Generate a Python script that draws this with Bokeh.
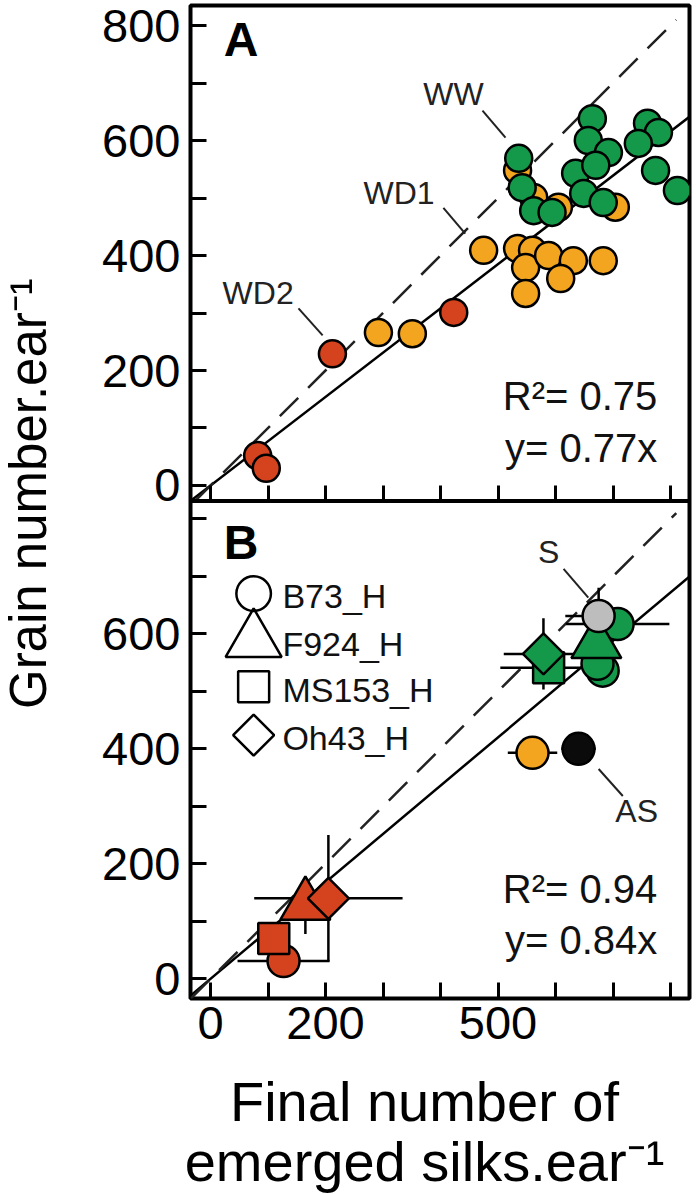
import numpy as np
from bokeh.plotting import figure
from bokeh.models import Range1d, FixedTicker, Label, LinearAxis, Span
from bokeh.layouts import row, column
from bokeh.embed import file_html
from bokeh.resources import INLINE

FONT = "Liberation Sans"

# ---------------- Panel A data ----------------
ww_x = [536, 542, 562, 594, 635, 649, 664, 657, 692, 670, 683, 760, 779, 744, 774, 812]
ww_y = [569, 518, 478, 475, 543, 508, 638, 600, 579, 557, 492, 630, 614, 595, 548, 513]
wd1_x = [292, 351, 475, 534, 560, 548, 588, 631, 609, 683, 548, 605, 704, 534, 562]
wd1_y = [266, 264, 409, 412, 409, 379, 400, 391, 360, 391, 334, 484, 484, 548, 501]
wd2_x = [82, 97, 212, 423]
wd2_y = [52, 30, 229, 301]

# ---------------- Panel B data ----------------
b_geno = ["B73_H", "MS153_H", "F924_H", "Oh43_H",
          "B73_H",
          "B73_H", "B73_H", "B73_H", "MS153_H", "Oh43_H", "F924_H",
          "B73_H", "B73_H"]
b_trt = ["WD2", "WD2", "WD2", "WD2",
         "WD1",
         "WW", "WW", "WW", "WW", "WW", "WW",
         "S", "AS"]
b_x = [127, 110, 165, 205, 560, 708, 682, 673, 588, 579, 671, 675, 640]
b_y = [31, 70, 128, 140, 393, 617, 536, 548, 541, 565, 583, 631, 400]
b_xerr = [80, 15, 20, 129, 43, 90, 0, 0, 84, 69, 0, 58, 30]
b_yerr = [10, 15, 50, 110, 0, 0, 0, 0, 10, 62, 0, 49, 0]

legend_labels = ["B73_H", "F924_H", "MS153_H", "Oh43_H"]

slope_a, r2_a = 0.77, 0.75
slope_b, r2_b = 0.84, 0.94

ticks = list(range(0, 801, 100))
x_labeled = [0, 200, 500]
ya_labeled = [0, 200, 400, 600, 800]
yb_labeled = [0, 200, 400, 600]

y_title = "Grain number.ear\u207b\u00b9"
x_title = ["Final number of", "emerged silks.ear\u207b\u00b9"]

COLORS = {"WW": "#14994a", "WD1": "#f4a520", "WD2": "#d5421e", "S": "#bdbdbd", "AS": "#0b0b0b"}
MARKERS = {"B73_H": ("circle", 0.0, 32), "F924_H": ("triangle", 0.0, 50),
           "MS153_H": ("square", 0.0, 31), "Oh43_H": ("square", np.pi / 4, 29)}

# Both panels share one frame; panel B values use their own y range,
# shifted so that its axis sits below panel A.
OFF = 858
XR = (-34.8, 833.0)
YA = (-892.2, 834.8)
A_BOTTOM = -27.0
YB = (YA[0] + OFF, YA[1] + OFF)

W_LEFT = 60
H_MAIN = 1066
H_BOTTOM = 1194 - H_MAIN

p = figure(width=696 - W_LEFT, height=H_MAIN, x_range=Range1d(*XR), y_range=Range1d(*YA),
           output_backend="svg", toolbar_location=None,
           min_border_left=190 - W_LEFT, min_border_right=7, min_border_top=5,
           min_border_bottom=H_MAIN - 998)
p.extra_y_ranges = {"B": Range1d(*YB)}
p.grid.visible = False
p.outline_line_color = "black"
p.outline_line_width = 4


def style_axis(ax):
    ax.axis_line_color = None
    ax.major_tick_in = 16
    ax.major_tick_out = 0
    ax.major_tick_line_width = 3
    ax.major_tick_line_color = "black"
    ax.minor_tick_line_color = None
    ax.major_label_text_font = FONT
    ax.major_label_text_font_size = "47px"
    ax.major_label_text_color = "black"


# left axis with the ticks of both panels
yax = p.yaxis[0]
style_axis(yax)
left_ticks = ticks + [t - OFF for t in ticks]
yax.ticker = FixedTicker(ticks=left_ticks)
ov = {t: (str(t) if t in ya_labeled else "") for t in ticks}
ov.update({t - OFF: (str(t) if t in yb_labeled else "") for t in ticks})
yax.major_label_overrides = ov
yax.major_label_standoff = 10

# bottom axis (panel B)
xax = p.xaxis[0]
style_axis(xax)
xax.ticker = FixedTicker(ticks=ticks)
xax.major_label_overrides = {t: (str(t) if t in x_labeled else "") for t in ticks}
xax.major_label_standoff = 8

# inner axis along the bottom edge of panel A
mid = LinearAxis(fixed_location=A_BOTTOM)
style_axis(mid)
mid.ticker = FixedTicker(ticks=ticks)
mid.major_label_overrides = {t: "" for t in ticks}
mid.major_label_text_font_size = "0px"
mid.major_label_standoff = 0
p.add_layout(mid, "below")

p.add_layout(Span(location=A_BOTTOM, dimension="width", line_color="black", line_width=4))


def add_lines(slope, y_lo, rng):
    x0s = max(XR[0], y_lo / slope)
    lx = np.array([x0s, XR[1] + 20])
    p.line(lx, slope * lx, line_color="black", line_width=2.5, y_range_name=rng)
    x0d = max(XR[0], y_lo)
    dx = np.array([x0d, 810.0])
    p.line(dx, dx, line_color="#222222", line_width=2.5, line_dash="26 14", y_range_name=rng)


def txt(fig, x, y, s, size, align="left", bold=False, color="#111111", rng="default", angle=0.0):
    fig.add_layout(Label(x=x, y=y, text=s, text_font=FONT, text_font_size=size,
                         text_align=align, text_baseline="middle", text_color=color, angle=angle,
                         text_font_style="bold" if bold else "normal", y_range_name=rng))


# ---------------- Panel A ----------------
add_lines(slope_a, A_BOTTOM, "default")
for xs, ys, key in ((wd1_x, wd1_y, "WD1"), (ww_x, ww_y, "WW"), (wd2_x, wd2_y, "WD2")):
    p.scatter(xs, ys, marker="circle", size=27, fill_color=COLORS[key],
              line_color="black", line_width=2.5)
txt(p, 23, 776, "A", "48px", bold=True, color="black")
txt(p, 370, 681, "WW", "32px", color="#222222")
txt(p, 266, 509, "WD1", "32px", color="#222222")
txt(p, 21, 335, "WD2", "32px", color="#222222")
p.segment(x0=[473, 405, 153], y0=[652, 483, 308], x1=[513, 443, 195], y1=[605, 438, 261],
          line_color="#222222", line_width=2)
txt(p, 777, 155, "R\u00b2= %.2f" % r2_a, "40px", align="right")
txt(p, 777, 66, "y= %.2fx" % slope_a, "40px", align="right")

# ---------------- Panel B ----------------
add_lines(slope_b, YB[0], "B")
bx = np.array(b_x, float); by = np.array(b_y, float)
bxe = np.array(b_xerr, float); bye = np.array(b_yerr, float)
mx = bxe > 0
p.segment(x0=bx[mx] - bxe[mx], y0=by[mx], x1=bx[mx] + bxe[mx], y1=by[mx],
          line_color="black", line_width=2.5, y_range_name="B")
my = bye > 0
p.segment(x0=bx[my], y0=by[my] - bye[my], x1=bx[my], y1=by[my] + bye[my],
          line_color="black", line_width=2.5, y_range_name="B")
for i in range(len(b_x)):
    m, ang, sz = MARKERS[b_geno[i]]
    p.scatter([b_x[i]], [b_y[i]], marker=m, angle=ang, size=sz,
              fill_color=COLORS[b_trt[i]], line_color="black", line_width=2.5,
              y_range_name="B")

# legend (hollow genotype symbols)
leg_y = [670, 588, 508, 424]
leg_scale = {"B73_H": 1.08, "F924_H": 1.12, "MS153_H": 1.0, "Oh43_H": 1.0}
for lab, ly in zip(legend_labels, leg_y):
    m, ang, sz = MARKERS[lab]
    p.scatter([75], [ly], marker=m, angle=ang, size=sz * leg_scale[lab], fill_color=None,
              line_color="black", line_width=2.5, y_range_name="B")
    txt(p, 125, ly - 5, lab, "34px", color="#111111", rng="B")

txt(p, 23, 759, "B", "48px", bold=True, color="black", rng="B")
txt(p, 588, 742, "S", "32px", align="center", color="#222222", rng="B")
txt(p, 704, 292, "AS", "32px", color="#222222", rng="B")
p.segment(x0=[614, 675], y0=[713, 365], x1=[657, 717], y1=[663, 318],
          line_color="#222222", line_width=2, y_range_name="B")
txt(p, 777, 157, "R\u00b2= %.2f" % r2_b, "40px", align="right", rng="B")
txt(p, 777, 68, "y= %.2fx" % slope_b, "40px", align="right", rng="B")

# ---------------- title strips (page-pixel coordinates) ----------------
pl = figure(width=W_LEFT, height=H_MAIN, x_range=Range1d(0, W_LEFT), y_range=Range1d(H_MAIN, 0),
            output_backend="svg", toolbar_location=None, min_border=0,
            x_axis_location=None, y_axis_location=None)
pl.grid.visible = False
pl.outline_line_color = None
txt(pl, 28, 524, y_title, "51px", align="center", color="black", angle=np.pi / 2)

pb = figure(width=696, height=H_BOTTOM, x_range=Range1d(0, 696),
            y_range=Range1d(1194, H_MAIN), output_backend="svg", toolbar_location=None,
            min_border=0, x_axis_location=None, y_axis_location=None)
pb.grid.visible = False
pb.outline_line_color = None
txt(pb, 424, 1101, x_title[0], "56px", align="center", color="black")
txt(pb, 424, 1161, x_title[1], "56px", align="center", color="black")

layout = column(row(pl, p), pb)
open("out.html", "w").write(file_html(layout, INLINE))
